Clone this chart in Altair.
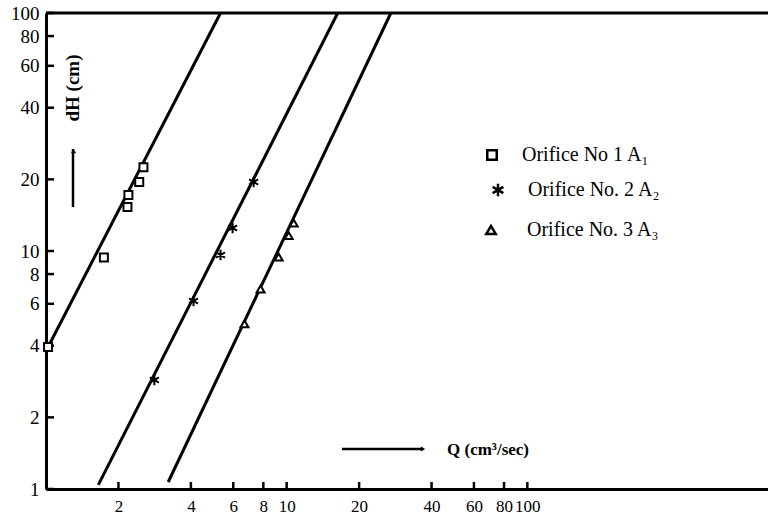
import altair as alt
import pandas as pd

# ---- data ----
series_names = ["Orifice No 1 A₁", "Orifice No. 2 A₂", "Orifice No. 3 A₃"]

# Orifice 1 (squares)
s1_Q = [1.02, 1.74, 2.18, 2.20, 2.44, 2.54]
s1_dH = [3.95, 9.4, 15.3, 17.2, 19.5, 22.5]
# Orifice 2 (asterisks)
s2_Q = [2.82, 4.10, 5.31, 5.96, 7.29]
s2_dH = [2.87, 6.16, 9.62, 12.5, 19.5]
# Orifice 3 (triangles)
s3_Q = [6.68, 7.79, 9.26, 10.2, 10.7]
s3_dH = [4.94, 6.92, 9.44, 11.6, 13.1]

# fitted straight lines (end points)
l1_Q = [1.02, 5.31]
l1_dH = [3.95, 100]
l2_Q = [1.65, 16.3]
l2_dH = [1.04, 100]
l3_Q = [3.22, 27.1]
l3_dH = [1.07, 100]

x_tick_values = [2, 4, 6, 8, 10, 20, 40, 60, 80, 100]
y_tick_values = [1, 2, 4, 6, 8, 10, 20, 40, 60, 80, 100]

asterisk = "M0,-1.3L0,1.3M-1.13,-0.65L1.13,0.65M-1.13,0.65L1.13,-0.65"
shapes = ["square", asterisk, "triangle-up"]

W, H = 722, 476
FONT = "Liberation Serif"

pts = pd.DataFrame({
    "Q": s1_Q + s2_Q + s3_Q,
    "dH": s1_dH + s2_dH + s3_dH,
    "series": [series_names[0]] * len(s1_Q) + [series_names[1]] * len(s2_Q) + [series_names[2]] * len(s3_Q),
})
lines = pd.DataFrame({
    "Q": l1_Q + l2_Q + l3_Q,
    "dH": l1_dH + l2_dH + l3_dH,
    "series": [series_names[0]] * 2 + [series_names[1]] * 2 + [series_names[2]] * 2,
})
xt = pd.DataFrame({"Q": x_tick_values})
yt = pd.DataFrame({"dH": y_tick_values})
one = pd.DataFrame({"a": [0]})

x_scale = alt.Scale(type="log", domain=[1, 1000], nice=False)
y_scale = alt.Scale(type="log", domain=[1, 100], nice=False)

x_axis = alt.Axis(values=x_tick_values, format="d", title=None, ticks=False, tickSize=0,
                  grid=False, domainWidth=3, domainColor="black", labelFont=FONT,
                  labelFontSize=17, labelColor="black", labelPadding=9,
                  labelFlush=False, labelOverlap=False)
y_axis = alt.Axis(values=y_tick_values, format="d", title=None, ticks=False, tickSize=0,
                  grid=False, domainWidth=3, domainColor="black", labelFont=FONT,
                  labelFontSize=19, labelColor="black", labelPadding=7,
                  labelFlush=False, labelOverlap=False)

X = alt.X("Q:Q", scale=x_scale, axis=x_axis)
Y = alt.Y("dH:Q", scale=y_scale, axis=y_axis)

line_layer = alt.Chart(lines).mark_line(color="black", strokeWidth=3).encode(
    x=X, y=Y, detail="series:N",
)

xtick_layer = alt.Chart(xt).mark_rule(color="black", strokeWidth=2.5).encode(
    x=X, y=alt.value(H), y2=alt.value(H - 7),
)
ytick_layer = alt.Chart(yt).mark_rule(color="black", strokeWidth=2.5).encode(
    y=Y, x=alt.value(0), x2=alt.value(8),
)

top_border = alt.Chart(one).mark_rule(color="black", strokeWidth=3).encode(
    x=alt.value(0), x2=alt.value(W), y=alt.value(0)
)

point_layer = alt.Chart(pts).mark_point(
    filled=False, fill="white", stroke="black", strokeWidth=2, size=64, opacity=1, fillOpacity=1
).encode(
    x=X, y=Y,
    shape=alt.Shape("series:N", scale=alt.Scale(domain=series_names, range=shapes), legend=None),
)

# hand-placed key (symbol + label for each orifice)
key_sym_x = [446, 452, 445]
key_txt_x = [476, 482, 481]
key_y = [142, 177, 217]
key_layers = []
for i, name in enumerate(series_names):
    key_layers.append(
        alt.Chart(one).mark_point(
            shape=shapes[i], filled=False, fill="white", stroke="black",
            strokeWidth=2.5, size=90, opacity=1, fillOpacity=1
        ).encode(x=alt.value(key_sym_x[i]), y=alt.value(key_y[i]))
    )
    key_layers.append(
        alt.Chart(one).mark_text(
            text=name, font=FONT, fontSize=20, color="black",
            align="left", baseline="middle"
        ).encode(x=alt.value(key_txt_x[i]), y=alt.value(key_y[i]))
    )

# annotations: axis names with arrows
dh_text = alt.Chart(one).mark_text(
    text="dH (cm)", angle=270, font=FONT, fontSize=19, fontWeight="bold",
    color="black", align="center", baseline="middle"
).encode(x=alt.value(27), y=alt.value(75))

v_arrow = alt.Chart(one).mark_rule(color="black", strokeWidth=2.5).encode(
    x=alt.value(27), y=alt.value(136), y2=alt.value(194)
)
v_head = alt.Chart(one).mark_point(
    shape="triangle-up", filled=True, color="black", size=25, opacity=1
).encode(x=alt.value(27.5), y=alt.value(138))

h_arrow = alt.Chart(one).mark_rule(color="black", strokeWidth=2.5).encode(
    x=alt.value(296), x2=alt.value(377), y=alt.value(436)
)
h_head = alt.Chart(one).mark_point(
    shape="triangle-right", filled=True, color="black", size=25, opacity=1
).encode(x=alt.value(377), y=alt.value(436))

q_text = alt.Chart(one).mark_text(
    text="Q (cm³/sec)", font=FONT, fontSize=17, fontWeight="bold",
    color="black", align="left", baseline="middle"
).encode(x=alt.value(401), y=alt.value(437))

chart = alt.layer(
    line_layer, xtick_layer, ytick_layer, top_border, point_layer,
    *key_layers,
    dh_text, v_arrow, v_head, h_arrow, h_head, q_text,
).properties(
    width=W, height=H,
    padding={"left": 46, "top": 13, "right": 0, "bottom": 31},
    autosize=alt.AutoSizeParams(type="none"),
    background="white",
).configure_view(stroke=None)

chart.save("out.html", embed_options={"renderer": "svg", "actions": False})
